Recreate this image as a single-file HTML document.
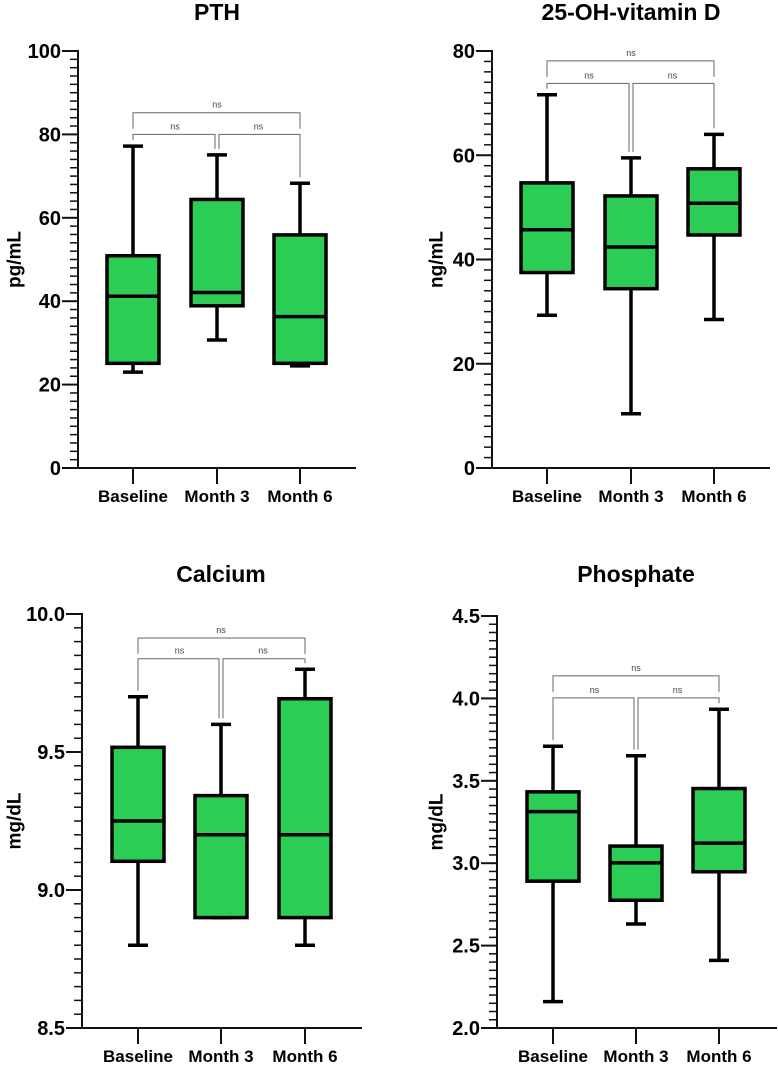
<!DOCTYPE html>
<html><head><meta charset="utf-8"><style>
html,body{margin:0;padding:0;background:#fff;}
svg{display:block;font-family:"Liberation Sans",Arial,sans-serif;}
</style></head><body>
<svg id="fig" width="778" height="1069" viewBox="0 0 778 1069" xmlns="http://www.w3.org/2000/svg"></svg>
<script>
const categories = ["Baseline", "Month 3", "Month 6"];
// PTH
const pthWhiskerHigh = [77.2, 75.1, 68.3];
const pthQ3 = [50.9, 64.4, 55.9];
const pthMedian = [41.2, 42.1, 36.3];
const pthQ1 = [25.1, 38.9, 25.1];
const pthWhiskerLow = [23.0, 30.7, 24.5];
const pthBrackets = [85.2, 80.0];
const pthTicks = [0, 20, 40, 60, 80, 100];
// Vitamin D
const vitWhiskerHigh = [71.6, 59.5, 64.0];
const vitQ3 = [54.7, 52.2, 57.4];
const vitMedian = [45.7, 42.4, 50.8];
const vitQ1 = [37.5, 34.4, 44.7];
const vitWhiskerLow = [29.3, 10.4, 28.5];
const vitBrackets = [78.1, 73.8];
const vitTicks = [0, 20, 40, 60, 80];
// Calcium
const caWhiskerHigh = [9.70, 9.60, 9.80];
const caQ3 = [9.517, 9.342, 9.693];
const caMedian = [9.25, 9.20, 9.20];
const caQ1 = [9.104, 8.90, 8.90];
const caWhiskerLow = [8.80, 8.90, 8.80];
const caBrackets = [9.913, 9.838];
const caTicks = ["8.5", "9.0", "9.5", "10.0"];
// Phosphate
const phWhiskerHigh = [3.71, 3.652, 3.934];
const phQ3 = [3.433, 3.104, 3.453];
const phMedian = [3.313, 3.002, 3.122];
const phQ1 = [2.891, 2.775, 2.948];
const phWhiskerLow = [2.16, 2.631, 2.41];
const phBrackets = [4.137, 4.003];
const phTicks = ["2.0", "2.5", "3.0", "3.5", "4.0", "4.5"];

const NS = "http://www.w3.org/2000/svg";
const svg = document.getElementById("fig");
function mk(tag, attrs, parent, text) {
  const e = document.createElementNS(NS, tag);
  for (const k in attrs) e.setAttribute(k, attrs[k]);
  if (text !== undefined) e.textContent = text;
  (parent || svg).appendChild(e);
  return e;
}
function panel(cfg) {
  const g = mk("g", {});
  
  
  const ticks = cfg.ticks.map(Number);
  const vmin = ticks[0], vmax = ticks[ticks.length - 1];
  const y = v => cfg.bot - (v - vmin) / (vmax - vmin) * (cfg.bot - cfg.top);
  const t = mk("text", {x: cfg.xs[1], y: cfg.titleY, "text-anchor": "middle", "font-size": 23, "font-weight": "bold"}, g, cfg.title);
  
  
  const yl = mk("text", {x: cfg.ylabX, y: (cfg.top + cfg.bot) / 2, "text-anchor": "middle", "font-size": 19, "font-weight": "bold", transform: `rotate(-90 ${cfg.ylabX} ${(cfg.top + cfg.bot) / 2})`, "dominant-baseline": "central"}, g, cfg.ylabel);
  
  
  const ya = mk("line", {x1: cfg.ax, y1: cfg.top - 1, x2: cfg.ax, y2: cfg.bot, stroke: "#111", "stroke-width": 2}, g);
  
  
  const xa = mk("line", {x1: cfg.ax - 16, y1: cfg.bot, x2: cfg.xend, y2: cfg.bot, stroke: "#111", "stroke-width": 2}, g);
  
  
  const step = (ticks[1] - ticks[0]) / 10;
  for (let i = 1; i < (vmax - vmin) / step - 0.5; i++) {
    const v = vmin + i * step;
    if (i % 10 === 0) continue;
    mk("line", {x1: cfg.ax - 8, y1: y(v), x2: cfg.ax, y2: y(v), stroke: "#111", "stroke-width": 1.5}, g);
  }
  cfg.ticks.forEach((lab, i) => {
    const v = ticks[i];
    mk("line", {x1: cfg.ax - 16, y1: y(v), x2: cfg.ax, y2: y(v), stroke: "#111", "stroke-width": 2}, g);
    const tl = mk("text", {x: cfg.ax - 17, y: y(v) + 7, "text-anchor": "end", "font-size": 20, "font-weight": "bold"}, g, String(lab));
    
    
  });
  categories.forEach((c, i) => {
    const x = cfg.xs[i];
    mk("line", {x1: x, y1: cfg.bot, x2: x, y2: cfg.bot + 16, stroke: "#111", "stroke-width": 2}, g);
    const xl = mk("text", {x: x, y: cfg.bot + 34, "text-anchor": "middle", "font-size": 17, "font-weight": "bold"}, g, c);
    
    
    const bg = mk("g", {}, g);
    
    
    const hw = 26, cw = 10;
    mk("line", {x1: x, y1: y(cfg.wh[i]), x2: x, y2: y(cfg.q3[i]), stroke: "#000", "stroke-width": 3.5}, bg);
    mk("line", {x1: x, y1: y(cfg.q1[i]), x2: x, y2: y(cfg.wl[i]), stroke: "#000", "stroke-width": 3.5}, bg);
    mk("line", {x1: x - cw, y1: y(cfg.wh[i]), x2: x + cw, y2: y(cfg.wh[i]), stroke: "#000", "stroke-width": 3.5}, bg);
    mk("line", {x1: x - cw, y1: y(cfg.wl[i]), x2: x + cw, y2: y(cfg.wl[i]), stroke: "#000", "stroke-width": 3.5}, bg);
    mk("rect", {x: x - hw, y: y(cfg.q3[i]), width: 2 * hw, height: y(cfg.q1[i]) - y(cfg.q3[i]), fill: "#2bcd55", stroke: "#000", "stroke-width": 3.5}, bg);
    mk("line", {x1: x - hw, y1: y(cfg.med[i]), x2: x + hw, y2: y(cfg.med[i]), stroke: "#000", "stroke-width": 3.5}, bg);
  });
  const bc = "#666";
  const yt = y(cfg.br[0]), yb = y(cfg.br[1]);
  const x0 = cfg.xs[0], x1 = cfg.xs[1], x2 = cfg.xs[2];
  const legEnd = i => y(cfg.wh[i]) - 6;
  const b1 = mk("path", {d: `M${x0},${yt + 16} V${yt} H${x2} V${yt + 16}`, fill: "none", stroke: bc, "stroke-width": 1}, g);
  
  
  const b2 = mk("path", {d: `M${x0},${legEnd(0)} V${yb} H${x1 - 2} V${legEnd(1)}`, fill: "none", stroke: bc, "stroke-width": 1}, g);
  
  
  const b3 = mk("path", {d: `M${x1 + 2},${legEnd(1)} V${yb} H${x2} V${legEnd(2)}`, fill: "none", stroke: bc, "stroke-width": 1}, g);
  
  
  [[x1, yt], [(x0 + x1) / 2, yb], [(x1 + x2) / 2, yb]].forEach(p => {
    const n = mk("text", {x: p[0], y: p[1] - 5, "text-anchor": "middle", "font-size": 9, fill: "#444"}, g, "ns");
    
    
  });
}
panel({name: "pth", title: "PTH", ylabel: "pg/mL", ticks: pthTicks, ax: 78, top: 51, bot: 468, xs: [133, 217, 300], xend: 356, titleY: 20, ylabX: 15,
  wh: pthWhiskerHigh, q3: pthQ3, med: pthMedian, q1: pthQ1, wl: pthWhiskerLow, br: pthBrackets});
panel({name: "vitamin-d", title: "25-OH-vitamin D", ylabel: "ng/mL", ticks: vitTicks, ax: 492, top: 51, bot: 468, xs: [547, 631, 714], xend: 770, titleY: 20, ylabX: 437,
  wh: vitWhiskerHigh, q3: vitQ3, med: vitMedian, q1: vitQ1, wl: vitWhiskerLow, br: vitBrackets});
panel({name: "calcium", title: "Calcium", ylabel: "mg/dL", ticks: caTicks, ax: 82, top: 614, bot: 1028, xs: [138, 221, 305], xend: 362, titleY: 582, ylabX: 15,
  wh: caWhiskerHigh, q3: caQ3, med: caMedian, q1: caQ1, wl: caWhiskerLow, br: caBrackets});
panel({name: "phosphate", title: "Phosphate", ylabel: "mg/dL", ticks: phTicks, ax: 497, top: 616, bot: 1028, xs: [553, 636, 719], xend: 777, titleY: 582, ylabX: 437,
  wh: phWhiskerHigh, q3: phQ3, med: phMedian, q1: phQ1, wl: phWhiskerLow, br: phBrackets});
</script>
</body></html>
